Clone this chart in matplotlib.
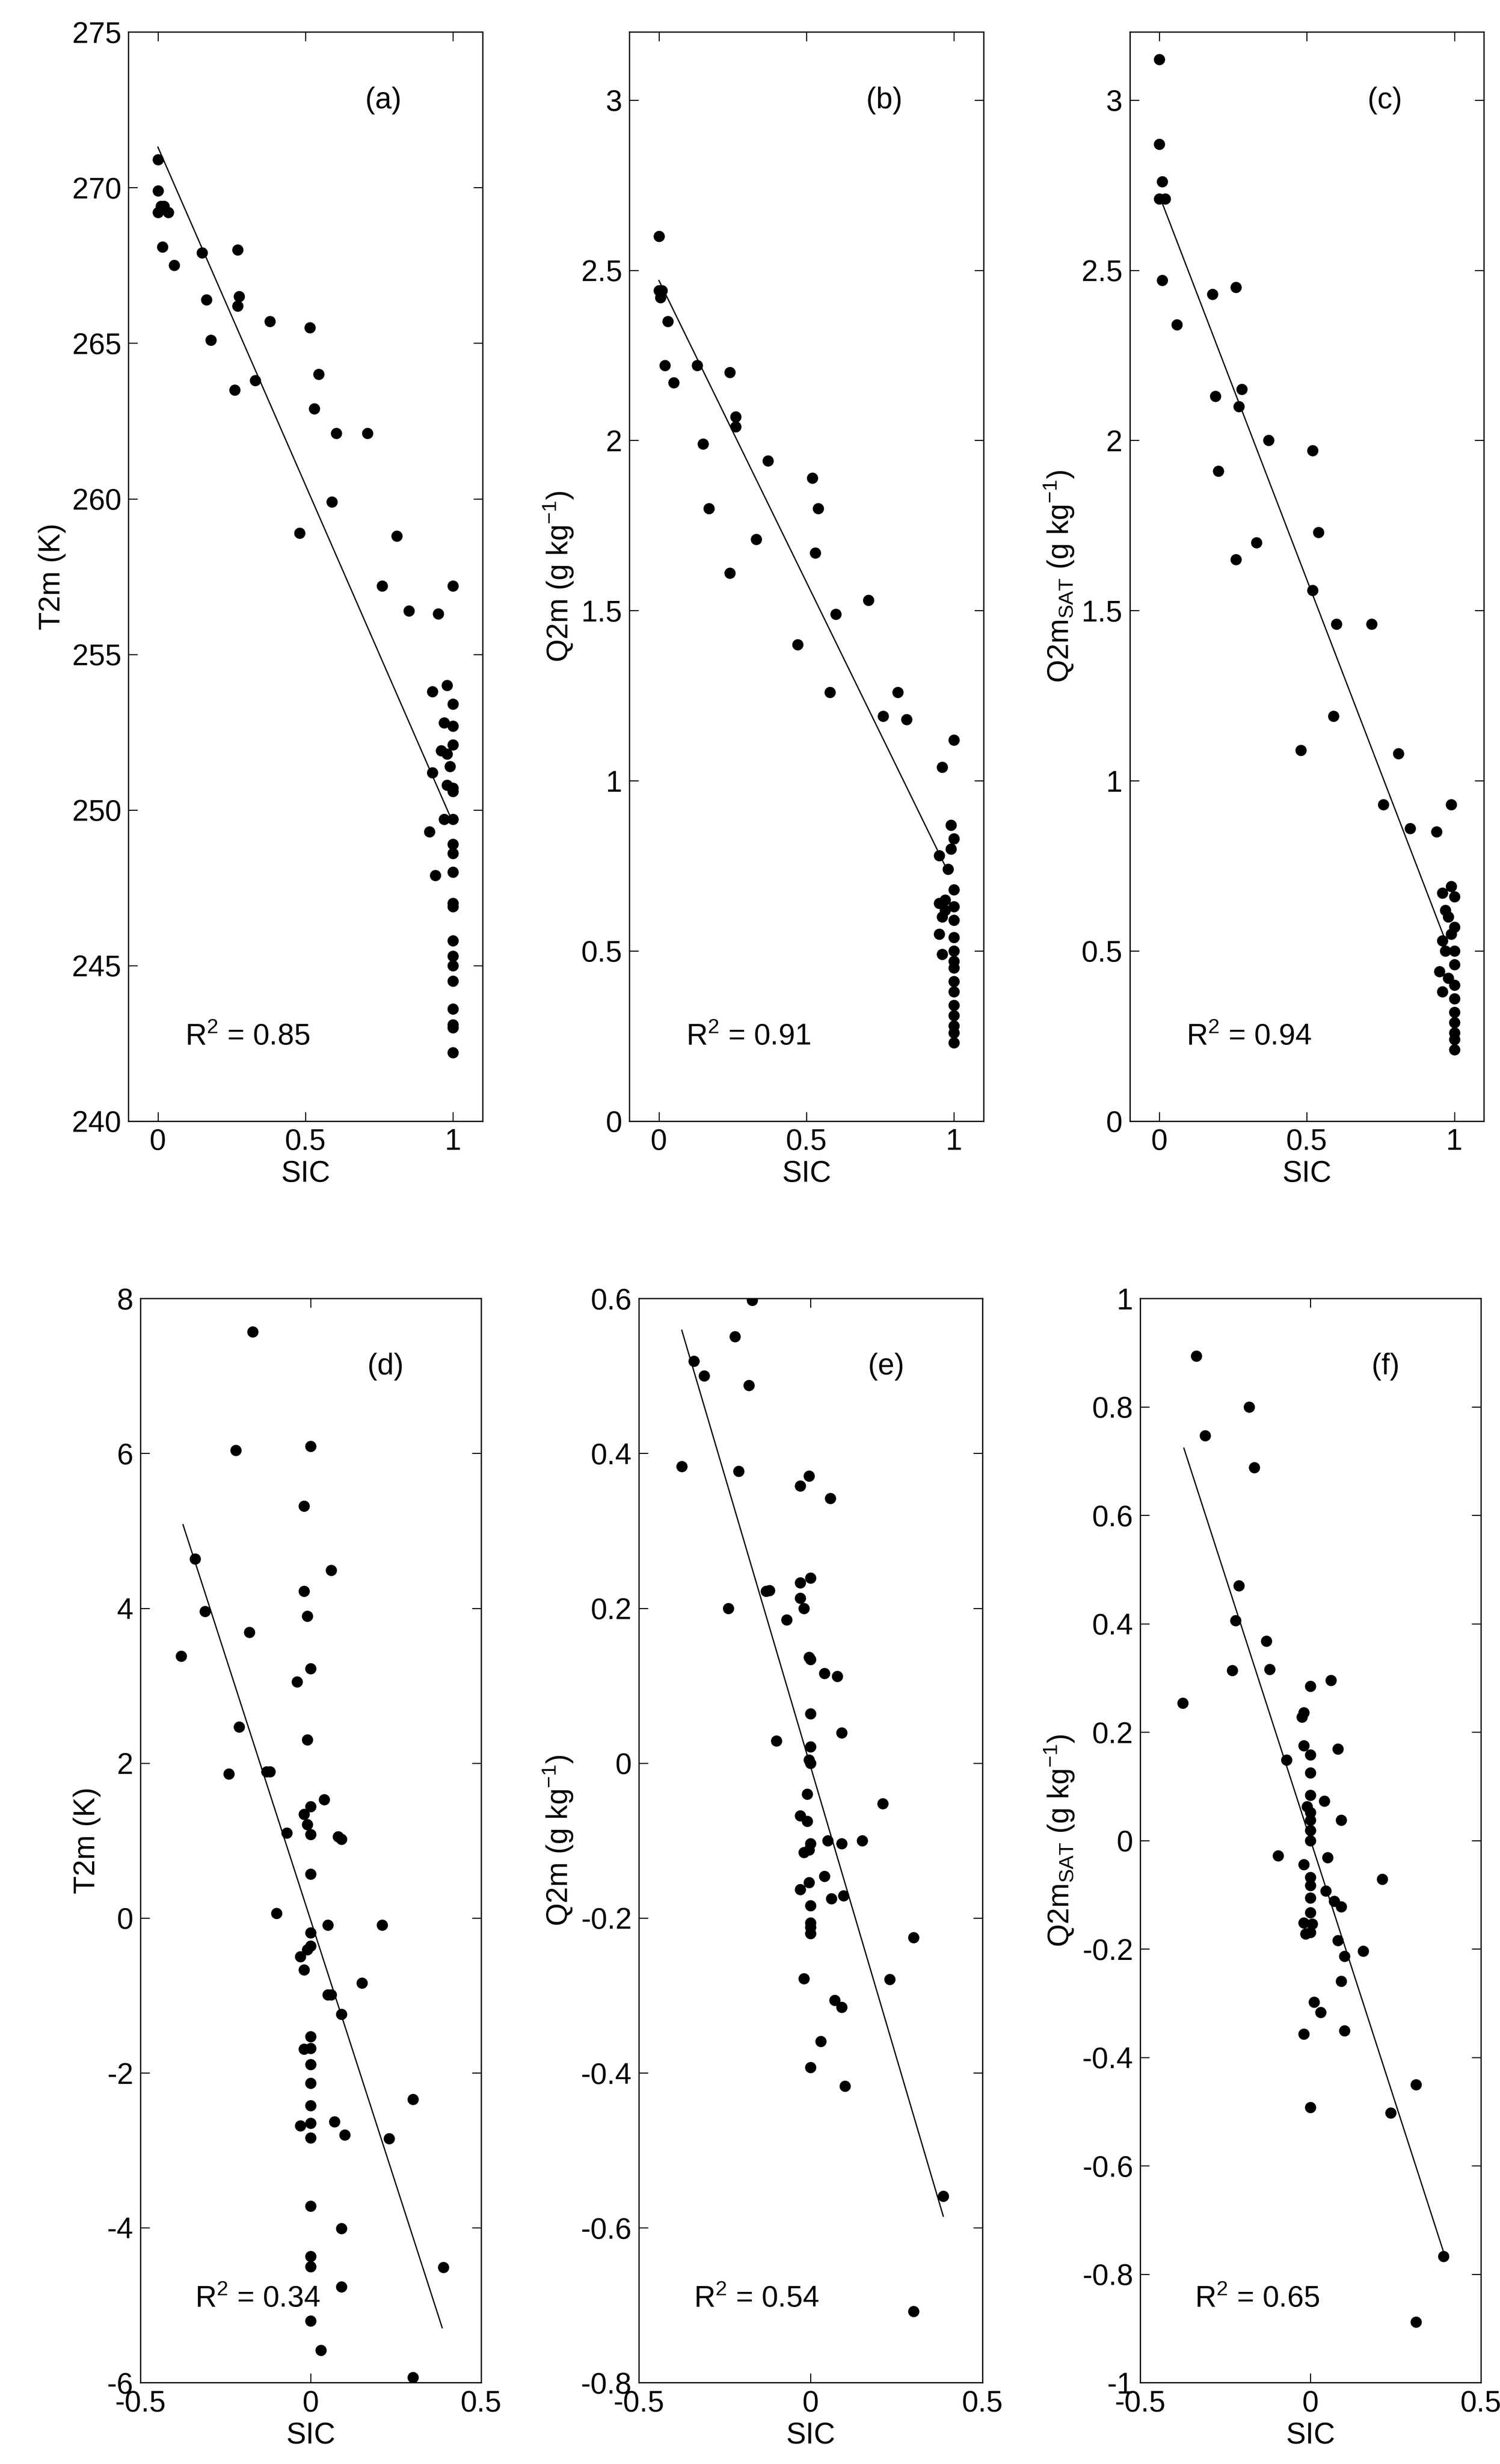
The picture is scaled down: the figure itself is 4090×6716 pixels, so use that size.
import matplotlib
matplotlib.use("Agg")
import matplotlib.pyplot as plt
import numpy as np

plt.rcParams["font.family"] = ["Liberation Sans", "DejaVu Sans"]
plt.rcParams["mathtext.fontset"] = "custom"
plt.rcParams["mathtext.rm"] = "Liberation Sans"

# (a) T2m vs SIC
a_x = [0, 0, 0, 0.01, 0.02, 0.035, 0.015, 0.055, 0.15, 0.165, 0.18, 0.27, 0.275, 0.27, 0.26,
       0.33, 0.38, 0.515, 0.545, 0.53, 0.605, 0.71, 0.59, 0.48, 0.81, 0.76, 0.85, 0.95, 1.0,
       0.93, 0.98, 1.0, 0.97, 1.0, 0.96, 0.98, 1.0, 0.99, 0.93, 0.98, 1.0, 1.0, 0.97, 1.0,
       0.92, 1.0, 1.0, 0.94, 1.0, 1.0, 1.0, 1.0, 1.0, 1.0, 1.0, 1.0, 1.0, 1.0, 1.0]
a_y = [270.9, 269.9, 269.2, 269.4, 269.4, 269.2, 268.1, 267.5, 267.9, 266.4, 265.1, 268.0,
       266.5, 266.2, 263.5, 263.8, 265.7, 265.5, 264.0, 262.9, 262.1, 262.1, 259.9, 258.9,
       258.8, 257.2, 256.4, 256.3, 257.2, 253.8, 254.0, 253.4, 252.8, 252.7, 251.9, 251.8,
       252.1, 251.4, 251.2, 250.8, 250.7, 250.6, 249.7, 249.7, 249.3, 248.9, 248.6, 247.9,
       248.0, 247.0, 246.9, 245.8, 245.3, 245.0, 244.5, 243.6, 243.1, 243.0, 242.2]
a_fit = ([0, 0.99], [271.3, 249.8])

# (b) Q2m vs SIC
b_x = [0, 0, 0.005, 0.01, 0.02, 0.03, 0.05, 0.13, 0.15, 0.17, 0.24, 0.24, 0.26, 0.26, 0.33,
       0.37, 0.47, 0.52, 0.54, 0.53, 0.58, 0.6, 0.71, 0.76, 0.81, 0.84, 0.96, 1.0, 0.95, 0.99,
       1.0, 0.99, 0.98, 1.0, 0.97, 0.95, 0.97, 0.96, 1.0, 1.0, 0.95, 1.0, 0.96, 1.0, 1.0, 1.0,
       1.0, 1.0, 1.0, 1.0, 1.0, 1.0, 1.0]
b_y = [2.6, 2.44, 2.42, 2.44, 2.22, 2.35, 2.17, 2.22, 1.99, 1.8, 1.61, 2.2, 2.07, 2.04, 1.71,
       1.94, 1.4, 1.89, 1.8, 1.67, 1.26, 1.49, 1.53, 1.19, 1.26, 1.18, 1.04, 1.12, 0.78, 0.8,
       0.83, 0.87, 0.74, 0.68, 0.65, 0.64, 0.62, 0.6, 0.63, 0.59, 0.55, 0.54, 0.49, 0.5, 0.47,
       0.45, 0.41, 0.38, 0.34, 0.31, 0.28, 0.26, 0.23]
b_fit = ([0, 0.97], [2.47, 0.75])

# (c) Q2m_SAT vs SIC
c_x = [0, 0, 0.01, 0, 0.02, 0.01, 0.06, 0.18, 0.19, 0.2, 0.26, 0.27, 0.28, 0.26, 0.33, 0.37,
       0.52, 0.54, 0.52, 0.48, 0.6, 0.59, 0.72, 0.76, 0.81, 0.85, 0.94, 0.99, 0.99, 0.96, 1.0,
       0.97, 0.98, 1.0, 0.96, 0.99, 0.97, 1.0, 1.0, 0.95, 0.98, 1.0, 0.96, 1.0, 1.0, 1.0, 1.0,
       1.0, 1.0]
c_y = [3.12, 2.87, 2.76, 2.71, 2.71, 2.47, 2.34, 2.43, 2.13, 1.91, 2.45, 2.1, 2.15, 1.65, 1.7,
       2.0, 1.97, 1.73, 1.56, 1.09, 1.46, 1.19, 1.46, 0.93, 1.08, 0.86, 0.85, 0.93, 0.69, 0.67,
       0.66, 0.62, 0.6, 0.57, 0.53, 0.55, 0.5, 0.5, 0.46, 0.44, 0.42, 0.4, 0.38, 0.36, 0.32,
       0.29, 0.26, 0.24, 0.21]
c_fit = ([0, 0.97], [2.72, 0.53])

# (d) T2m anomaly vs SIC anomaly
d_x = [-0.17, -0.22, 0, -0.02, -0.34, -0.31, 0.06, -0.02, -0.01, -0.18, -0.38, 0, -0.04,
       -0.21, -0.01, -0.24, -0.13, -0.12, 0.04, 0, -0.02, -0.01, -0.07, 0, 0.08, 0.09, 0,
       -0.1, 0.05, 0.21, 0, 0, -0.01, -0.03, -0.02, 0.15, 0.05, 0.06, 0.09, 0, 0, -0.02, 0,
       0, 0, 0.3, -0.03, 0, 0.07, 0, 0.1, 0.23, 0, 0.09, 0, 0, 0.39, 0.09, 0, 0.03, 0.3]
d_y = [7.57, 6.04, 6.09, 5.32, 4.64, 3.96, 4.49, 4.22, 3.9, 3.69, 3.38, 3.22, 3.05, 2.47, 2.3,
       1.86, 1.89, 1.89, 1.53, 1.44, 1.34, 1.21, 1.1, 1.08, 1.05, 1.02, 0.57, 0.06, -0.09,
       -0.09, -0.19, -0.36, -0.41, -0.5, -0.67, -0.84, -0.99, -0.99, -1.24, -1.53, -1.68,
       -1.69, -1.89, -2.13, -2.42, -2.34, -2.68, -2.65, -2.63, -2.84, -2.8, -2.85, -3.72,
       -4.01, -4.37, -4.5, -4.51, -4.76, -5.2, -5.58, -5.93]
d_fit = ([-0.375, 0.386], [5.08, -5.29])

# (e) Q2m anomaly vs SIC anomaly
e_x = [-0.17, -0.22, -0.34, -0.31, -0.18, -0.375, -0.21, -0.005, -0.03, 0.057, -0.24, -0.13,
       -0.12, -0.03, -0.03, 0, -0.02, -0.07, -0.005, 0, 0.04, 0.077, 0, -0.1, 0.09, 0, -0.005,
       0, -0.01, 0.21, -0.03, -0.01, -0.02, -0.005, 0, 0.05, 0.09, 0.15, 0, -0.03, -0.005,
       0.04, 0.06, 0.096, 0, 0, 0, 0.3, -0.02, 0.23, 0.07, 0.09, 0.03, 0, 0.1, 0.386, 0.3]
e_y = [0.598, 0.551, 0.519, 0.5, 0.488, 0.383, 0.377, 0.371, 0.358, 0.342, 0.2, 0.222, 0.223,
       0.213, 0.233, 0.239, 0.2, 0.185, 0.137, 0.134, 0.116, 0.112, 0.064, 0.029, 0.039,
       0.021, 0.004, 0, -0.04, -0.052, -0.068, -0.075, -0.115, -0.112, -0.104, -0.1, -0.104,
       -0.1, -0.184, -0.163, -0.154, -0.146, -0.175, -0.171, -0.206, -0.212, -0.22, -0.225,
       -0.278, -0.279, -0.306, -0.315, -0.359, -0.393, -0.417, -0.559, -0.708]
e_fit = ([-0.375, 0.386], [0.559, -0.585])

# (f) Q2m_SAT anomaly vs SIC anomaly
f_x = [-0.335, -0.31, -0.18, -0.165, -0.21, -0.22, -0.13, -0.12, -0.23, -0.375, 0, 0.06,
       -0.025, -0.02, -0.02, 0, 0.08, -0.07, 0, 0, 0.04, -0.01, 0, 0, 0.09, 0, 0, -0.095,
       -0.02, 0.05, 0.21, 0, 0, 0.045, 0, 0.07, 0.09, 0, -0.02, 0.005, -0.015, 0, 0.08, 0.155,
       0.1, 0.09, 0.01, 0.03, -0.02, 0.1, 0, 0.31, 0.235, 0.39, 0.31]
f_y = [0.894, 0.747, 0.8, 0.688, 0.47, 0.406, 0.368, 0.316, 0.314, 0.254, 0.285, 0.296, 0.228,
       0.236, 0.175, 0.158, 0.169, 0.149, 0.125, 0.084, 0.073, 0.063, 0.052, 0.038, 0.038,
       0.019, 0, -0.028, -0.044, -0.031, -0.071, -0.068, -0.083, -0.093, -0.106, -0.112,
       -0.122, -0.133, -0.152, -0.154, -0.172, -0.169, -0.184, -0.204, -0.213, -0.259,
       -0.298, -0.317, -0.357, -0.351, -0.492, -0.45, -0.502, -0.767, -0.888]
f_fit = ([-0.372, 0.389], [0.724, -0.756])

Q_LABEL = "Q2m (g kg$^{-1}$)"
QS_LABEL = "Q2m$_{\\mathrm{SAT}}$ (g kg$^{-1}$)"

panels = [
    # x, y, fit, tag, r2, ylabel, yticks, ylim, rect
    (a_x, a_y, a_fit, "(a)", "0.85", "T2m (K)", np.arange(240, 276, 5), (240, 275),
     [0.0856, 0.545, 0.236, 0.442]),
    (b_x, b_y, b_fit, "(b)", "0.91", Q_LABEL, np.arange(0, 3.01, 0.5), (0, 3.2),
     [0.4195, 0.545, 0.236, 0.442]),
    (c_x, c_y, c_fit, "(c)", "0.94", QS_LABEL, np.arange(0, 3.01, 0.5), (0, 3.2),
     [0.753, 0.545, 0.236, 0.442]),
    (d_x, d_y, d_fit, "(d)", "0.34", "T2m (K)", np.arange(-6, 8.1, 2), (-6, 8),
     [0.0936, 0.033, 0.227, 0.44]),
    (e_x, e_y, e_fit, "(e)", "0.54", Q_LABEL, np.arange(-0.8, 0.61, 0.2), (-0.8, 0.6),
     [0.4258, 0.033, 0.229, 0.44]),
    (f_x, f_y, f_fit, "(f)", "0.65", QS_LABEL, np.arange(-1, 1.01, 0.2), (-1, 1),
     [0.760, 0.033, 0.227, 0.44]),
]

FS = 58

fig = plt.figure(figsize=(40.91, 67.16), dpi=100)
for i, (x, y, fit, tag, r2, ylab, yt, ylim, rect) in enumerate(panels):
    ax = fig.add_axes(rect)
    ax.plot(x, y, "o", color="black", markersize=21)
    ax.plot(fit[0], fit[1], color="black", linewidth=2.5)
    if i < 3:
        ax.set_xlim(-0.1, 1.1)
        ax.set_xticks([0, 0.5, 1], ["0", "0.5", "1"])
    else:
        ax.set_xlim(-0.5, 0.5)
        ax.set_xticks([-0.5, 0, 0.5], ["-0.5", "0", "0.5"])
    ax.set_ylim(*ylim)
    ax.set_yticks(yt, [f"{v + 0.0:g}" for v in np.round(yt, 2)])
    ax.tick_params(direction="in", top=True, right=True, length=18, width=2,
                   labelsize=FS, pad=14)
    for s in ax.spines.values():
        s.set_linewidth(2.5)
    ax.set_xlabel("SIC", fontsize=FS, labelpad=8)
    ax.set_ylabel(ylab, fontsize=FS, labelpad=12)
    ax.text(0.72, 0.93, tag, transform=ax.transAxes, fontsize=FS, ha="center")
    ax.text(0.16, 0.07, f"R$^2$ = {r2}", transform=ax.transAxes, fontsize=FS)

fig.savefig("out.png", dpi=100)
